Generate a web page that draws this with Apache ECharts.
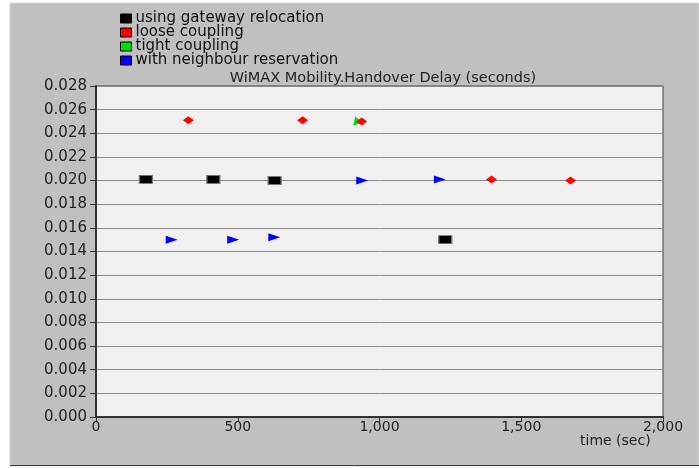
<!DOCTYPE html>
<html><head><meta charset="utf-8">
<script src="https://cdn.jsdelivr.net/npm/echarts@6/dist/echarts.min.js"></script>
<style>html,body{margin:0;padding:0;background:#fff;}#c{width:699px;height:468px;}</style>
</head><body><div id="c"></div>
<script>
const seriesNames = ['using gateway relocation','loose coupling','tight coupling','with neighbour reservation'];
const gatewayRelocation = [[176,0.0201],[414,0.0201],[630,0.0200],[1232,0.0150]];
const looseCoupling = [[326,0.0251],[729,0.0251],[937,0.0250],[1395,0.0201],[1674,0.0200]];
const tightCoupling = [[919,0.0251]];
const neighbourReservation = [[267,0.0150],[484,0.0150],[629,0.0152],[939,0.0200],[1213,0.0201]];
const xTicks = [0,500,1000,1500,2000];
const yTicks = [0,0.002,0.004,0.006,0.008,0.010,0.012,0.014,0.016,0.018,0.020,0.022,0.024,0.026,0.028];

const FONT = 'DejaVu Sans';
const chart = echarts.init(document.getElementById('c'));
chart.setOption({
  backgroundColor: '#ffffff',
  animation: false,
  textStyle: {fontFamily: FONT},
  graphic: [
    {type:'rect', z:-10, shape:{x:10,y:3,width:689,height:463}, style:{fill:'#c0c0c0', stroke:'#d8d8d8', lineWidth:1}},
    {type:'line', z:-9, shape:{x1:10,y1:465.5,x2:699,y2:465.5}, style:{stroke:'#404040', lineWidth:1}},
    {type:'text', left: 580, top: 434, style:{text:'time (sec)', font:'14px "DejaVu Sans"', fill:'#222'}}
  ],
  title: {
    text: 'WiMAX Mobility.Handover Delay (seconds)',
    left: 378, textAlign: 'center', top: 66,
    textStyle: {fontFamily: FONT, fontSize: 14.5, fontWeight: 'normal', color: '#222'}
  },
  legend: {
    orient: 'vertical', left: 115, top: 6, itemGap: -1,
    itemWidth: 11, itemHeight: 9, icon: 'rect',
    data: seriesNames,
    textStyle: {fontFamily: FONT, fontSize: 15, color: '#111', lineHeight: 13, padding:[0,0,0,-1]},
    itemStyle: {borderColor:'#000', borderWidth:1}
  },
  grid: {left: 96, right: 36, top: 86, bottom: 51, show: true, backgroundColor: '#f0f0f0', borderColor: '#404040', borderWidth: 1},
  xAxis: {
    type: 'value', min: xTicks[0], max: xTicks[xTicks.length-1], interval: 500,
    axisLine: {show:true, lineStyle:{color:'#333', width:2}},
    axisTick: {show:true, length:5, lineStyle:{color:'#333'}},
    splitLine: {show:false},
    axisLabel: {fontFamily: FONT, fontSize: 14, color:'#222', margin: 3,
      formatter: v => v.toLocaleString('en-US')}
  },
  yAxis: {
    type: 'value', min: yTicks[0], max: yTicks[yTicks.length-1], interval: 0.002,
    axisLine: {show:true, lineStyle:{color:'#333', width:2}},
    axisTick: {show:true, length:6, lineStyle:{color:'#333'}},
    splitLine: {show:true, lineStyle:{color:'#8a8a8a', width:1}},
    axisLabel: {fontFamily: FONT, fontSize: 15, color:'#222', margin: 9,
      formatter: v => v.toFixed(3)}
  },
  series: [
    {name: seriesNames[0], type:'scatter', data: gatewayRelocation, symbol:'rect', symbolSize:[13,8],
      itemStyle:{color:'#000', borderColor:'#777', borderWidth:1, opacity:1}, z:3},
    {name: seriesNames[1], type:'scatter', data: looseCoupling, symbol:'diamond', symbolSize:[11,8],
      itemStyle:{color:'#ff0000', opacity:1}, z:4},
    {name: seriesNames[2], type:'scatter', data: tightCoupling, symbol:'triangle', symbolSize:[10,8], symbolRotate: 20,
      itemStyle:{color:'#00e000', opacity:1}, z:2},
    {name: seriesNames[3], type:'scatter', data: neighbourReservation, symbol:'triangle', symbolSize:[8,12], symbolRotate:-90,
      itemStyle:{color:'#0000ff', opacity:1}, z:3}
  ]
});
</script></body></html>
